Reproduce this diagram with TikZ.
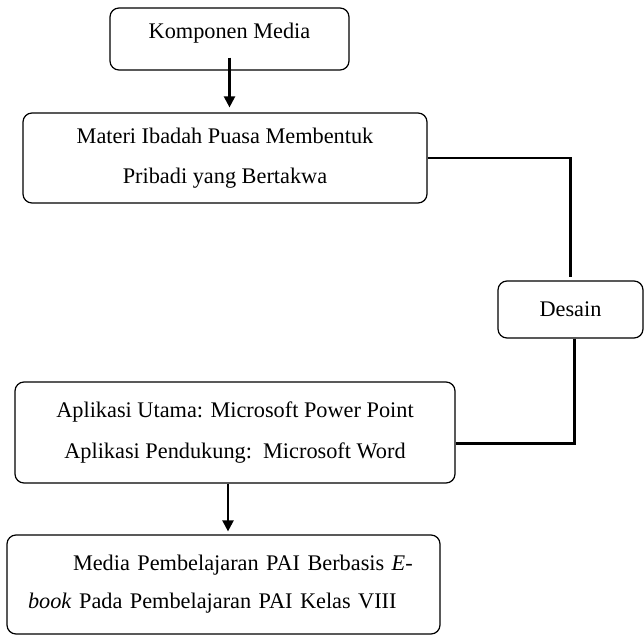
\documentclass[tikz,border=0pt]{standalone}
\usepackage{fontspec}
\setmainfont{Liberation Serif}
\usetikzlibrary{positioning,arrows.meta,calc}
\definecolor{kmline}{RGB}{0,0,0}
\definecolor{kmtext}{RGB}{0,0,0}
\tikzset{
  box/.style={
    draw=kmline, rounded corners=9pt, line width=1.2pt, text=kmtext,
    font=\fontsize{22.3}{41}\selectfont, align=center, inner sep=0pt
  },
  ar/.style={-{Triangle[length=11pt,width=11pt]}, draw=kmline, line width=2.2pt},
  ln/.style={draw=kmline, line width=2.2pt},
}
\begin{document}
\begin{tikzpicture}[x=1pt,y=-1pt]
  \useasboundingbox (0,0) rectangle (644,636);

  % ===== main column =====
  \node[box, minimum width=239pt, minimum height=62pt, text depth=17pt] (komp) at (229.5,39) {Komponen Media};
  \node[box, minimum width=404pt, minimum height=90pt, font=\fontsize{22.3}{40}\selectfont] (materi) at (225,158)
    {Materi Ibadah Puasa Membentuk\\Pribadi yang Bertakwa};
  \node[box, minimum width=440pt, minimum height=101pt] (aplikasi) at (235,432.5)
    {Aplikasi Utama: Microsoft Power Point\\Aplikasi Pendukung:\ \ Microsoft Word};
  \node[box, minimum width=433pt, minimum height=99pt, text width=391pt, inner xsep=21pt,
        align=left, font=\fontsize{22.3}{38}\selectfont] (media) at (223.5,584.5)
    {\hspace*{45pt}Media Pembelajaran PAI Berbasis \textit{E}-\\\textit{book} Pada Pembelajaran PAI Kelas VIII};

  % ===== side step =====
  \node[box, minimum width=145pt, minimum height=57pt] (desain) at (570.5,309.5) {Desain};

  % ===== edges =====
  \draw[ar] ([yshift=13pt]komp.south) -- ([yshift=5pt]komp.south |- materi.north);
  \draw[ln] (materi.east) -| ([yshift=3pt]desain.north);
  \draw[ln] ([xshift=4pt]desain.south) |- ([yshift=-11pt]aplikasi.east);
  \draw[ar] ([xshift=-7pt]aplikasi.south) -- ([xshift=-7pt,yshift=3pt]aplikasi.south |- media.north);

\end{tikzpicture}
\end{document}
